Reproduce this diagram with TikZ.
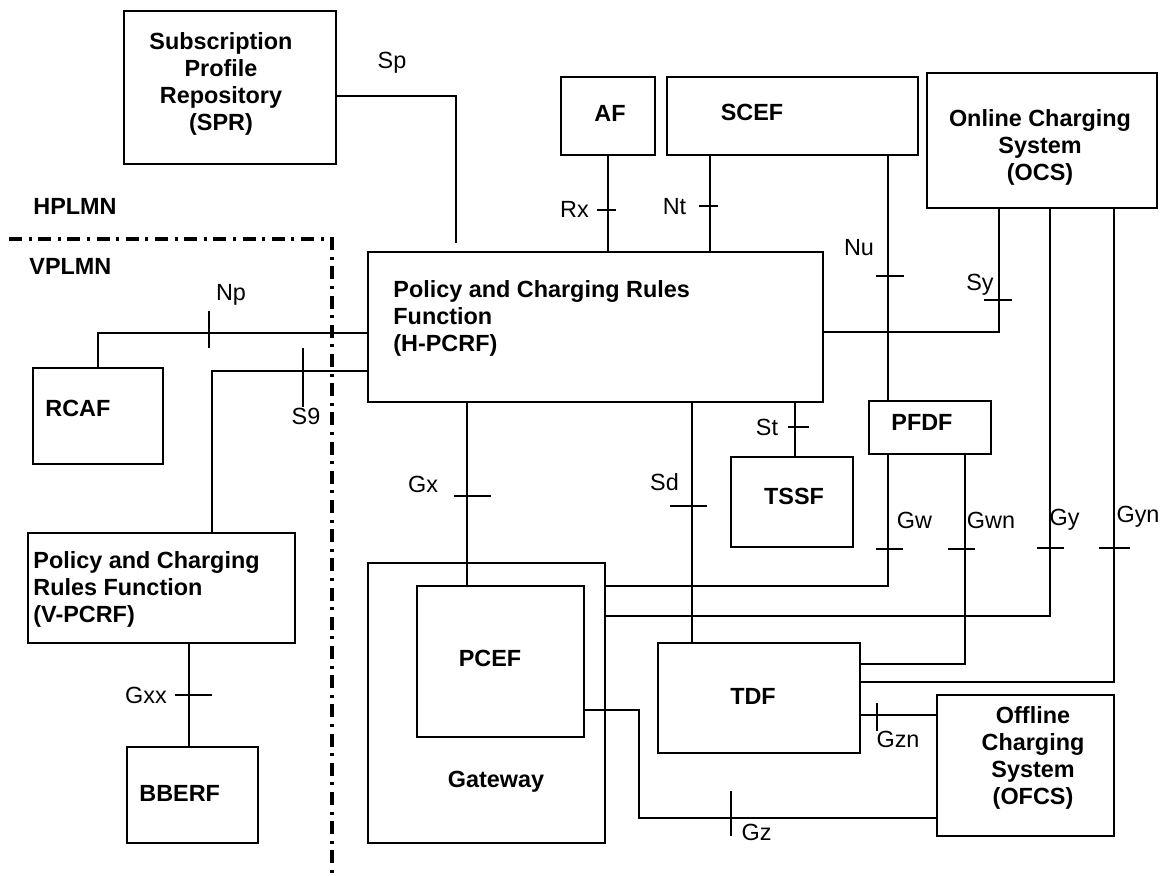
\documentclass[tikz,border=0pt]{standalone}
\usepackage{fontspec}
\setmainfont{Liberation Sans}
\usepackage{tikz}

\begin{document}
\begin{tikzpicture}[x=0.5pt, y=-0.5pt,
	box/.style={draw, line width=0.8pt, inner sep=0pt},
	title/.style={font=\fontsize{11.7}{13.5}\selectfont\bfseries, inner sep=0pt},
	iface/.style={font=\fontsize{11.7}{13.5}\selectfont, inner sep=0pt},
	link/.style={line width=0.7pt},
	tick/.style={line width=0.6pt},
	border/.style={line width=1.7pt, dash pattern=on 6.5pt off 3.3pt on 1.5pt off 3.3pt}]
	\useasboundingbox (0,0) rectangle (1160,875);

	% boxes
	\node[box, minimum width=106pt, minimum height=76.5pt] at (230,87.5) (spr) {};
	\node[box, minimum width=47pt, minimum height=39pt] at (608,116) (af) {};
	\node[box, minimum width=125.5pt, minimum height=39pt] at (792.5,116) (scef) {};
	\node[box, minimum width=115pt, minimum height=67.5pt] at (1042,140.5) (ocs) {};
	\node[box, minimum width=227.5pt, minimum height=75pt] at (595.5,327) (hpcrf) {};
	\node[box, minimum width=65pt, minimum height=48pt] at (98,416) (rcaf) {};
	\node[box, minimum width=133.5pt, minimum height=55pt] at (161.5,588) (vpcrf) {};
	\node[box, minimum width=65.5pt, minimum height=48pt] at (192.5,795) (bberf) {};
	\node[box, minimum width=61pt, minimum height=26.5pt] at (930,427.5) (pfdf) {};
	\node[box, minimum width=61pt, minimum height=45pt] at (792,502) (tssf) {};
	\node[box, minimum width=118.5pt, minimum height=140pt] at (486.5,703) (gw) {};
	\node[box, minimum width=83.5pt, minimum height=75.5pt] at (500.5,661.5) (pcef) {};
	\node[box, minimum width=101pt, minimum height=55pt] at (759,698) (tdf) {};
	\node[box, minimum width=88.5pt, minimum height=70.5pt] at (1025.5,765.5) (ofcs) {};

	% box texts
	\node[title, align=center] at (221,83.5) (tspr) {Subscription\\Profile\\Repository\\(SPR)};
	\node[title] at (610,113) (taf) {AF};
	\node[title] at (752,112) (tscef) {SCEF};
	\node[title, align=center] at (1040,147.5) (tocs) {Online Charging\\System\\(OCS)};
	\node[title, align=left, anchor=west] at (393,318.5) (thpcrf) {Policy and Charging Rules\\Function\\(H-PCRF)};
	\node[title, anchor=west] at (45,408) (trcaf) {RCAF};
	\node[title, align=left, anchor=west] at (33,589.5) (tvpcrf) {Policy and Charging\\Rules Function\\(V-PCRF)};
	\node[title, anchor=west] at (139,793) (tbberf) {BBERF};
	\node[title, anchor=west] at (891,422) (tpfdf) {PFDF};
	\node[title] at (794,496) (ttssf) {TSSF};
	\node[title] at (490,658) (tpcef) {PCEF};
	\node[title] at (496,782) (tgw) {Gateway};
	\node[title] at (753,696) (ttdf) {TDF};
	\node[title, align=center] at (1033,757.5) (tofcs) {Offline\\Charging\\System\\(OFCS)};
	\node[title, anchor=west] at (33,206) (home) {HPLMN};
	\node[title, anchor=west] at (29,266) (visited) {VPLMN};

	% network border
	\draw[border] (9,239) -- (332,239) -- (332,875);

	% bend points
	\coordinate (sp-a) at (456,96);
	\coordinate (sp-b) at (456,243);
	\coordinate (nt-x) at (710,0);
	\coordinate (nu-x) at (888,0);
	\coordinate (sy-a) at (999,332);
	\coordinate (np-a) at (98,333);
	\coordinate (s9-a) at (212,371);
	\coordinate (gxx-x) at (189,0);
	\coordinate (gx-x) at (467,0);
	\coordinate (sd-x) at (692,0);
	\coordinate (st-x) at (795,0);
	\coordinate (gw-a) at (888,586);
	\coordinate (gwn-a) at (965,664);
	\coordinate (gy-a) at (1050,616);
	\coordinate (gyn-a) at (1114,682);
	\coordinate (gzn-y) at (0,715);
	\coordinate (gz-a) at (639,710);
	\coordinate (gz-b) at (639,818);

	% reference points
	\draw[link] (spr.east |- sp-a) -- (sp-a) -- (sp-b);
	\draw[link] (af.south) -- (af.south |- hpcrf.north);
	\draw[link] (scef.south -| nt-x) -- (hpcrf.north -| nt-x);
	\draw[link] (scef.south -| nu-x) -- (pfdf.north -| nu-x);
	\draw[link] (hpcrf.east |- sy-a) -- (sy-a) -- (ocs.south -| sy-a);
	\draw[link] (hpcrf.west |- np-a) -- (np-a) -- (rcaf.north);
	\draw[link] (hpcrf.west |- s9-a) -- (s9-a) -- (vpcrf.north -| s9-a);
	\draw[link] (vpcrf.south -| gxx-x) -- (bberf.north -| gxx-x);
	\draw[link] (hpcrf.south -| gx-x) -- (pcef.north -| gx-x);
	\draw[link] (hpcrf.south -| sd-x) -- (tdf.north -| sd-x);
	\draw[link] (hpcrf.south -| st-x) -- (tssf.north -| st-x);
	\draw[link] (pfdf.south -| gw-a) -- (gw-a) -- (gw.east |- gw-a);
	\draw[link] (pfdf.south -| gwn-a) -- (gwn-a) -- (tdf.east |- gwn-a);
	\draw[link] (ocs.south -| gy-a) -- (gy-a) -- (gw.east |- gy-a);
	\draw[link] (ocs.south -| gyn-a) -- (gyn-a) -- (tdf.east |- gyn-a);
	\draw[link] (tdf.east |- gzn-y) -- (ofcs.west |- gzn-y);
	\draw[link] (pcef.east |- gz-a) -- (gz-a) -- (gz-b) -- (ofcs.west |- gz-b);

	% ticks
	\draw[tick] (597,210) -- (616,210);
	\draw[tick] (699,206) -- (718,206);
	\draw[tick] (876,276) -- (904,276);
	\draw[tick] (984,300) -- (1012,300);
	\draw[tick] (209,311) -- (209,348);
	\draw[tick] (303,348) -- (303,407);
	\draw[tick] (454,496) -- (491,496);
	\draw[tick] (670,506) -- (707,506);
	\draw[tick] (788,427) -- (809,427);
	\draw[tick] (876,549) -- (903,549);
	\draw[tick] (948,549) -- (975,549);
	\draw[tick] (1037,548) -- (1064,548);
	\draw[tick] (1099,548) -- (1130,548);
	\draw[tick] (175,695) -- (212,695);
	\draw[tick] (877,703) -- (877,731);
	\draw[tick] (731,791) -- (731,836);

	% interface names
	\node[iface] at (392,63) (lsp) {Sp};
	\node[iface] at (574.5,209) (lrx) {Rx};
	\node[iface] at (674.5,207) (lnt) {Nt};
	\node[iface] at (859,248) (lnu) {Nu};
	\node[iface] at (980,285) (lsy) {Sy};
	\node[iface] at (231,295) (lnp) {Np};
	\node[iface] at (306,416) (ls9) {S9};
	\node[iface] at (423,484) (lgx) {Gx};
	\node[iface] at (664.5,482) (lsd) {Sd};
	\node[iface] at (767,427) (lst) {St};
	\node[iface] at (914.5,520) (lgw) {Gw};
	\node[iface] at (991,520) (lgwn) {Gwn};
	\node[iface] at (1064.5,520) (lgy) {Gy};
	\node[iface] at (1138,517) (lgyn) {Gyn};
	\node[iface] at (146,695) (lgxx) {Gxx};
	\node[iface] at (898,739) (lgzn) {Gzn};
	\node[iface] at (756.5,832) (lgz) {Gz};
\end{tikzpicture}
\end{document}
